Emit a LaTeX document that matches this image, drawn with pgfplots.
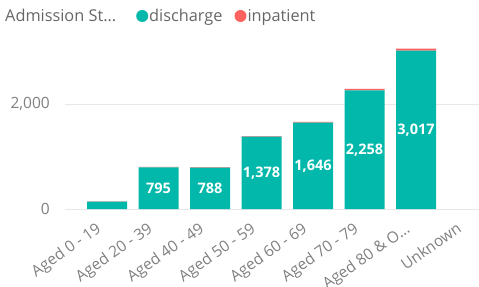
\documentclass[border=0pt]{standalone}
\usepackage{fontspec}
\setmainfont{Open Sans}
\usepackage{pgfplots}
\pgfplotsset{compat=1.18}
\definecolor{pbteal}{RGB}{1,184,170}
\definecolor{pbred}{RGB}{253,98,94}
\definecolor{tickgray}{RGB}{128,128,128}
\definecolor{leggray}{RGB}{102,102,102}
\definecolor{gridgray}{RGB}{232,232,232}
\begin{document}
\begin{tikzpicture}
\useasboundingbox (-65bp,-78bp) rectangle (414bp,209bp);
\begin{axis}[
  at={(0,0)}, anchor=south west,
  scale only axis, width=414bp, height=162.75bp,
  ybar stacked, bar width=40bp,
  xmin=-0.816, xmax=7.223, ymin=0, ymax=3100,
  xtick={0,...,7},
  xticklabels={Aged 0 - 19, Aged 20 - 39, Aged 40 - 49, Aged 50 - 59, Aged 60 - 69, Aged 70 - 79, Aged 80 \& O…, Unknown},
  ytick={0,2000},
  yticklabels={0,{2,000}},
  axis line style={draw=none},
  major tick length=0pt,
  ymajorgrids, grid style={gridgray, line width=1bp},
  yticklabel style={font=\fontsize{15.5bp}{18bp}\selectfont, text=tickgray, anchor=east, inner sep=0pt, xshift=-15bp},
  xticklabel style={font=\fontsize{15.5bp}{18bp}\selectfont, text=tickgray, inner sep=0pt, xshift=-5bp, yshift=-22bp, rotate=35, anchor=base east},
  legend columns=-1,
  legend style={draw=none, fill=none, inner sep=0pt, at={(-0.1473,1.186)}, anchor=west,
    font=\fontsize{16.3bp}{19bp}\selectfont, text=leggray,
    nodes={inner sep=1bp},
    /tikz/every even column/.append style={column sep=11bp}},
]
\addlegendimage{empty legend}
\addlegendentry{\makebox[119bp][l]{Admission St…}}
\addplot[fill=pbteal, draw=none,
  legend image code/.code={\fill[pbteal] (6bp,0bp) circle (6bp);},
  nodes near coords, point meta=explicit symbolic,
  every node near coord/.append style={anchor=center, text=white, font=\bfseries\fontsize{14.5bp}{17bp}\selectfont}
] coordinates {(0,140) [{}] (1,795) [{795}] (2,788) [{788}] (3,1378) [{1,378}] (4,1646) [{1,646}] (5,2258) [{2,258}] (6,3017) [{3,017}]};
\addlegendentry{discharge}
\addplot[fill=pbred, draw=none,
  legend image code/.code={\fill[pbred] (6bp,0bp) circle (6bp);}
] coordinates {(0,3) (1,8) (2,8) (3,10) (4,15) (5,28) (6,38)};
\addlegendentry{inpatient}
\end{axis}
\end{tikzpicture}
\end{document}
